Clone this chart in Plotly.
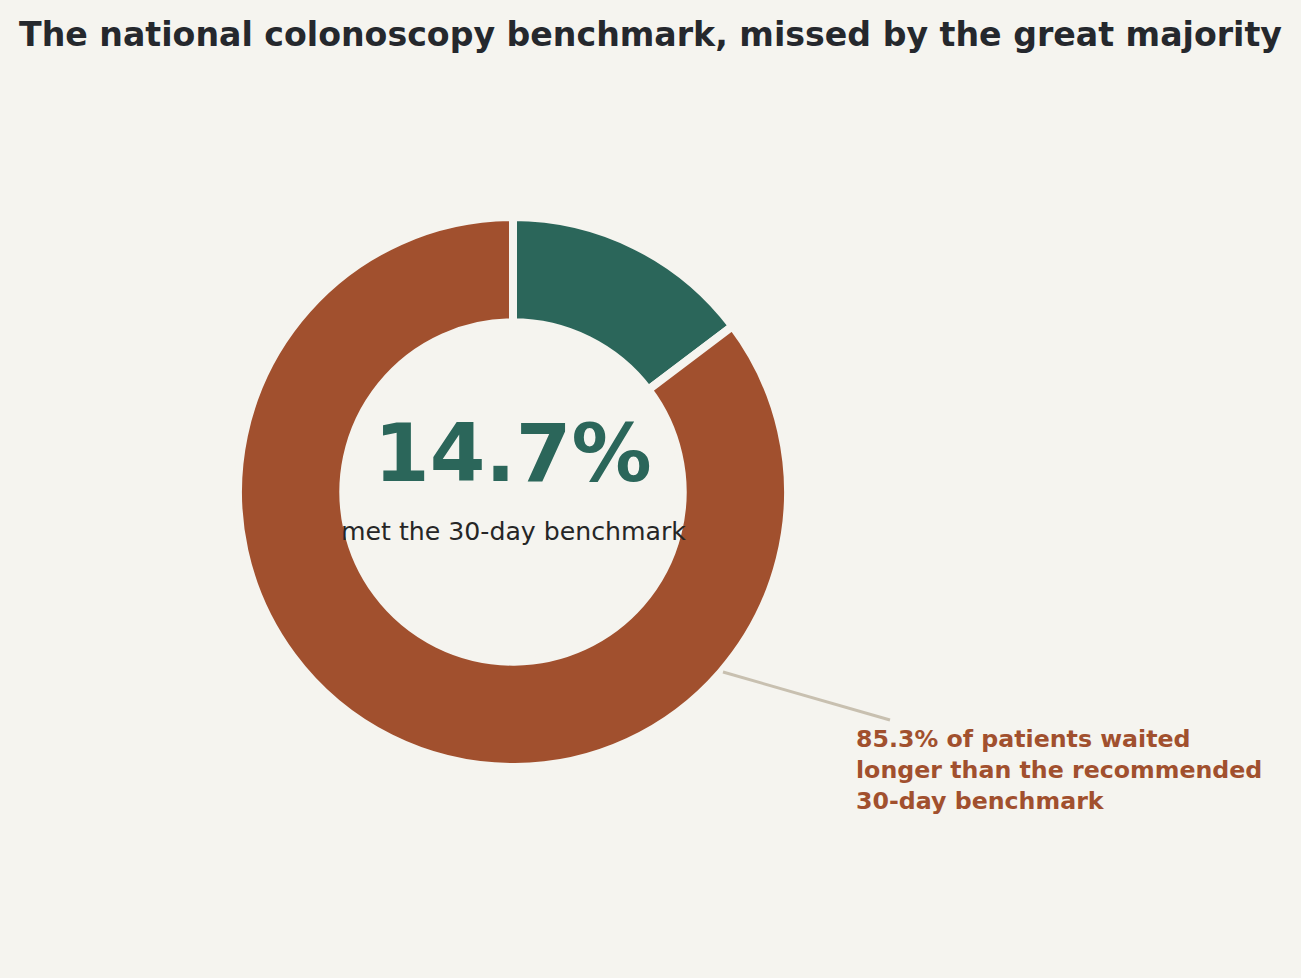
import plotly.graph_objects as go

categories = ["Met the 30-day benchmark", "Waited longer than 30 days"]
values = [14.7, 85.3]
colors = ["#2B665A", "#A1502E"]

BG = "#F5F4EF"
W, H = 1301, 978

# donut geometry in pixels (layout)
cx, cy, R = 513, 492, 275

fig = go.Figure()
fig.add_trace(go.Pie(
    labels=categories,
    values=values,
    hole=0.617,
    sort=False,
    direction="clockwise",
    rotation=0,
    marker=dict(colors=colors, line=dict(color=BG, width=8)),
    textinfo="none",
    hoverinfo="label+percent",
    showlegend=False,
    domain=dict(x=[(cx - R) / W, (cx + R) / W],
                y=[(H - cy - R) / H, (H - cy + R) / H]),
))

fig.add_annotation(
    x=cx / W, y=1 - 502 / H, xref="paper", yref="paper",
    text=f"<b>{values[0]}%</b>", showarrow=False,
    font=dict(family="DejaVu Sans", size=80, color=colors[0]),
    xanchor="center", yanchor="bottom",
)
fig.add_annotation(
    x=cx / W, y=1 - 531 / H, xref="paper", yref="paper",
    text="met the 30-day benchmark", showarrow=False,
    font=dict(family="DejaVu Sans", size=25.2, color="#262626"),
    xanchor="center", yanchor="middle",
)
fig.add_annotation(
    x=854 / W, y=1 - 723 / H, xref="paper", yref="paper",
    text=f"<b>{values[1]}% of patients waited<br>longer than the recommended<br>30-day benchmark</b>",
    showarrow=False, align="left",
    font=dict(family="DejaVu Sans", size=23.7, color=colors[1]),
    xanchor="left", yanchor="top",
)
fig.add_shape(
    type="line", xref="paper", yref="paper",
    x0=723 / W, y0=1 - 672 / H, x1=890 / W, y1=1 - 720 / H,
    line=dict(color="#C8C0B0", width=3),
)

fig.update_layout(
    width=W, height=H,
    paper_bgcolor=BG, plot_bgcolor=BG,
    margin=dict(l=0, r=0, t=0, b=0),
    title=dict(
        text="<b>The national colonoscopy benchmark, missed by the great majority</b>",
        x=0.5, xanchor="center", y=1 - 34 / H, yanchor="middle",
        font=dict(family="DejaVu Sans", size=33.2, color="#25282D"),
    ),
)

post = ("document.body.style.margin='0';"
        "document.body.style.background='" + BG + "';"
        "document.documentElement.style.overflow='hidden';")
fig.write_html("out.html", post_script=post, config={"displayModeBar": False})
